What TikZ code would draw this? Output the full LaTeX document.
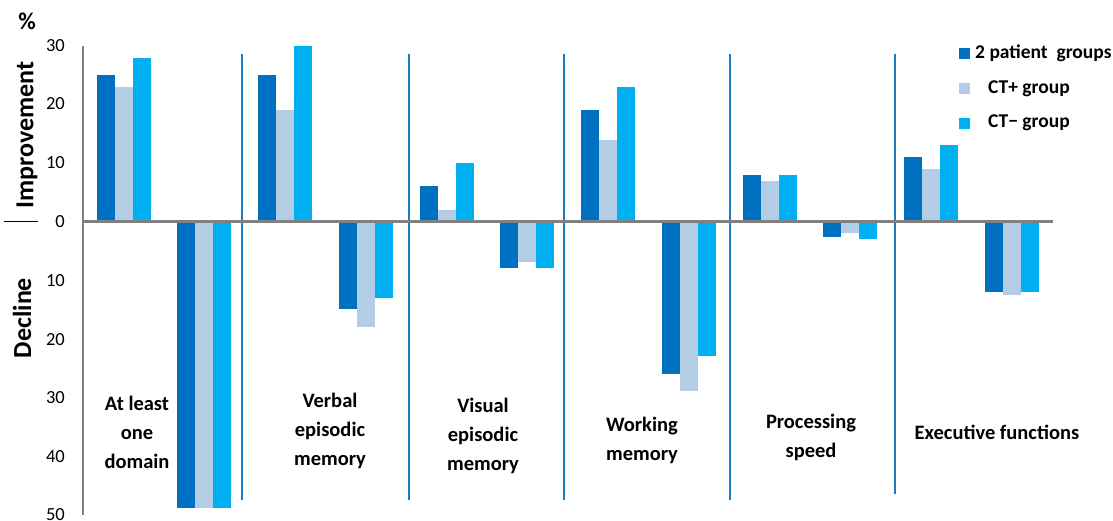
\documentclass[tikz,border=0pt]{standalone}
\usepackage{fontspec}
\setmainfont{Carlito}
\definecolor{cdark}{HTML}{0070C0}
\definecolor{clight}{HTML}{B4CDE7}
\definecolor{ccyan}{HTML}{00B0F0}
\definecolor{csep}{HTML}{1B7DC1}
\definecolor{caxis}{HTML}{808080}
\begin{document}
\begin{tikzpicture}[x=1pt,y=-1pt,
  tick/.style={font=\fontsize{18.5}{18.5}\selectfont, anchor=east, inner sep=0pt},
  axlabel/.style={font=\fontsize{26}{26}\bfseries\selectfont, rotate=90, inner sep=0pt},
  catlabel/.style={font=\fontsize{20.5}{29}\bfseries\selectfont, align=center, inner sep=0pt},
  legtext/.style={font=\fontsize{19.5}{19.5}\bfseries\selectfont, anchor=west, inner sep=0pt},
  sepline/.style={draw=csep, line width=2pt}]
\useasboundingbox (0,0) rectangle (1113,521);
\def\yz{221.5}
\def\sc{5.85}
\def\bw{18}
% bars: group index / positive values / negative values
\foreach \i/\pa/\pb/\pc/\na/\nb/\nc in {
  0/25/23/28/49/49/49,
  1/25/19/30/15/18/13,
  2/6/2/10/8/7/8,
  3/19/14/23/26/29/23,
  4/8/7/8/2.6/2/3,
  5/11/9/13/12/12.5/12}{
  \pgfmathsetmacro{\px}{96.7+161.5*\i}
  \pgfmathsetmacro{\nx}{\px+80.5}
  \fill[cdark]  (\px,\yz) rectangle ++(\bw,-\pa*\sc);
  \fill[clight] (\px+\bw,\yz) rectangle ++(\bw,-\pb*\sc);
  \fill[ccyan]  (\px+2*\bw,\yz) rectangle ++(\bw,-\pc*\sc);
  \fill[cdark]  (\nx,\yz) rectangle ++(\bw,\na*\sc);
  \fill[clight] (\nx+\bw,\yz) rectangle ++(\bw,\nb*\sc);
  \fill[ccyan]  (\nx+2*\bw,\yz) rectangle ++(\bw,\nc*\sc);
}
% group separators
\foreach \sx/\sb in {242/500,409/500,564/500,730/500,895/494}{
  \draw[sepline] (\sx,54) -- (\sx,\sb);
}
% axes
\coordinate (ytop) at (83,46);
\coordinate (ybot) at (83,515);
\coordinate (zl) at (83,\yz);
\coordinate (zr) at (1053,\yz);
\draw[caxis, line width=2pt] (ytop) -- (ybot);
\draw[caxis, line width=3pt] (zl) -- (zr);
% tick labels
\node[tick] (t30u) at (65,46) {30};
\node[tick] (t20u) at (65,104) {20};
\node[tick] (t10u) at (65,163) {10};
\node[tick] (t0)   at (65,221.5) {0};
\node[tick] (t10d) at (65,281) {10};
\node[tick] (t20d) at (65,339.5) {20};
\node[tick] (t30d) at (65,398) {30};
\node[tick] (t40d) at (65,456.5) {40};
\node[tick] (t50d) at (65,515) {50};
% axis titles
\node[font=\fontsize{24}{24}\bfseries\selectfont, inner sep=0pt] (pct) at (27,21) {\%};
\node[axlabel] (impr) at (27,135) {Improvement};
\node[axlabel] (decl) at (22,318) {Decline};
\coordinate (ma) at (4,221.5);
\coordinate (mb) at (38,221.5);
\draw[black, line width=1.5pt] (ma) -- (mb);
% category labels
\node[catlabel] (c1) at (137,432) {At least\\one\\domain};
\node[catlabel] (c2) at (330,431) {Verbal\\episodic\\memory};
\node[catlabel] (c3) at (483,436) {Visual\\episodic\\memory};
\node[catlabel] (c4) at (642,440) {Working\\memory};
\node[catlabel] (c5) at (811,437) {Processing\\speed};
\node[catlabel] (c6) at (997,432) {Executive functions};
% legend
\fill[cdark]  (959,48) rectangle (970,59);
\fill[clight] (959,83.5) rectangle (970,94.5);
\fill[ccyan]  (959,118) rectangle (970,129);
\node[legtext] (l1) at (975,53.5) {2 patient\ \ groups};
\node[legtext] (l2) at (988,88.5) {CT+ group};
\node[legtext] (l3) at (988,123) {CT− group};
\end{tikzpicture}
\end{document}
